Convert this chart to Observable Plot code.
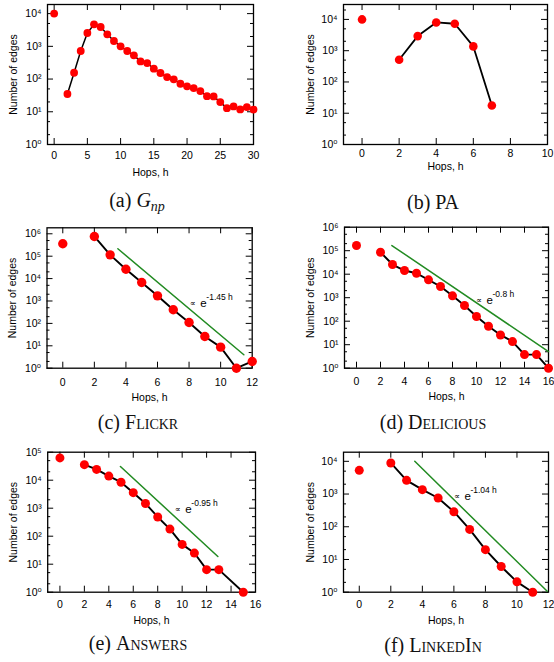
<!DOCTYPE html>
<html><head><meta charset="utf-8">
<script src="https://cdn.jsdelivr.net/npm/d3@7"></script>
<script src="https://cdn.jsdelivr.net/npm/@observablehq/plot@0.6"></script>
<style>
body{margin:0;overflow:hidden;background:#fff}
#wrap{position:relative;width:554px;height:662px;overflow:hidden;background:#fff}
.cap{position:absolute;white-space:nowrap;font-family:"Liberation Serif","Times New Roman",serif;font-size:20px;line-height:1;transform:translate(-50%,-50%);color:#111}
.sc{font-variant:small-caps}
sub{font-size:70%;vertical-align:-0.25em}
</style></head><body><div id="wrap"></div>
<script>
// ---------- data ----------
const hopsA  = [0,2,3,4,5,6,7,8,9,10,11,12,13,14,15,16,17,18,19,20,21,22,23,24,25,26,27,28,29,30];
const edgesA = [10000,35,156,720,2560,4700,3900,2330,1455,1000,720,530,347,309,207,153,115,98,72,60,53,43,30,29.5,19.8,12.9,14.6,11.8,13.9,11.7];

const hopsB  = [0,2,3,4,5,6,7];
const edgesB = [10000,512,2930,8000,7260,1370,17.6];

const hopsC  = [0,2,3,4,5,6,7,8,9,10,11,12];
const edgesC = [358000,760000,115000,26000,6700,1700,405,110,26,8.7,1,2];
const fitHopsC = [3.49,11.47];
const fitEdgesC = [214000,4.0];

const hopsD  = [0,2,3,4,5,6,7,8,9,10,11,12,13,14,15,16];
const edgesD = [166000,86000,25800,14300,11000,5740,2990,1200,464,158,61,26,13.6,3.8,3.8,1];
const fitHopsD = [2.95,16];
const fitEdgesD = [166000,5.1];

const hopsE  = [0,2,3,4,5,6,7,8,9,10,11,12,13,15];
const edgesE = [62400,35800,24300,14000,8470,3580,1475,486,179,51,25,6.4,6.4,1];
const fitHopsE = [4.95,12.92];
const fitEdgesE = [31000,18.8];

const hopsF  = [0,2,3,4,5,6,7,8,9,10,11];
const edgesF = [5300,8900,2620,1360,755,288,83,20,6.1,2.07,1];
const fitHopsF = [3.52,11.92];
const fitEdgesF = [10000,1.07];

const xTicksA = [0,5,10,15,20,25,30];
const xTicksB = [0,2,4,6,8,10];
const xTicksC = [0,2,4,6,8,10,12];
const xTicksD = [0,2,4,6,8,10,12,14,16];
const xTicksE = [0,2,4,6,8,10,12,14,16];
const xTicksF = [0,2,4,6,8,10,12];
const yTicks4 = [1,10,100,1000,10000];
const yTicks5 = [1,10,100,1000,10000,100000];
const yTicks6 = [1,10,100,1000,10000,100000,1000000];

const noteC = {h: 8.05, n: 760, exp: "-1.45 h"};
const noteD = {h: 9.96, n: 760, exp: "-0.8 h"};
const noteE = {h: 9.4, n: 890, exp: "-0.95 h"};
const noteF = {h: 6.0, n: 850, exp: "-1.04 h"};

const xLabel = "Hops, h";
const yLabel = "Number of edges";
// ------------------------------------------------

const SUP = "⁰¹²³⁴⁵⁶⁷⁸⁹";
const GREEN = "#228b22";
const FONT = "'Liberation Sans', Arial, 'DejaVu Sans', sans-serif";

function panel(c) {
  const data = c.hops.map((h, i) => ({h, n: c.edges[i]}));
  const [mt, mr, mb, ml] = c.margin;
  const pw = c.width - ml - mr, ph = c.height - mt - mb;
  const majors = c.yTicks;
  const minors = [];
  majors.forEach(v => [2, 5].forEach(k => { if (v * k < c.yDomain[1]) minors.push(v * k); }));
  const marks = [
    Plot.frame({stroke: "black", strokeWidth: 1.3}),
    Plot.tickY(majors, {y: d => d, insetRight: pw - 6, stroke: "black"}),
    Plot.tickY(majors, {y: d => d, insetLeft: pw - 6, stroke: "black"}),
    Plot.tickY(minors, {y: d => d, insetRight: pw - 3, stroke: "black"}),
    Plot.tickY(minors, {y: d => d, insetLeft: pw - 3, stroke: "black"}),
    Plot.tickX(c.xTicks, {x: d => d, insetTop: ph - 6, stroke: "black"}),
    Plot.tickX(c.xTicks, {x: d => d, insetBottom: ph - 6, stroke: "black"}),
    Plot.axisX(c.xTicks, {tickSize: 0, tickPadding: c.xPad, label: null}),
    Plot.axisY(majors, {tickSize: 0, tickPadding: 6, label: null,
      tickFormat: v => "10" + SUP[Math.round(Math.log10(v))]}),
    Plot.text([xLabel], {frameAnchor: "bottom", lineAnchor: "middle", textAnchor: "middle", dy: c.xLabelDy}),
    Plot.text([yLabel], {frameAnchor: "left", lineAnchor: "middle", textAnchor: "middle", rotate: -90, dx: c.yLabelDx}),
    Plot.line(data.filter(d => d.h > 0), {x: "h", y: "n", stroke: "black", strokeWidth: c.lw})
  ];
  if (c.fitH) {
    const fit = c.fitH.map((h, i) => ({h, n: c.fitN[i]}));
    marks.push(Plot.line(fit, {x: "h", y: "n", stroke: GREEN, strokeWidth: 1.5}));
  }
  marks.push(Plot.dot(data, {x: "h", y: "n", r: c.r, fill: "#ff0000", stroke: "none"}));
  if (c.note) {
    const nd = [c.note];
    marks.push(
      Plot.text(nd, {x: "h", y: "n", text: () => "∝", textAnchor: "start", fontSize: 8}),
      Plot.text(nd, {x: "h", y: "n", text: () => "e", textAnchor: "start", fontSize: 11.5, dx: 10.5}),
      Plot.text(nd, {x: "h", y: "n", text: d => d.exp, textAnchor: "start", fontSize: 8.5, dx: 16.5, dy: -6.5})
    );
  }
  const svg = Plot.plot({
    width: c.width, height: c.height,
    marginTop: mt, marginRight: mr, marginBottom: mb, marginLeft: ml,
    style: {fontFamily: FONT, fontSize: "10.5px", color: "black", background: "transparent", overflow: "visible"},
    x: {domain: c.xDomain},
    y: {type: "log", domain: c.yDomain},
    marks
  });
  svg.style.position = "absolute";
  svg.style.left = c.left + "px";
  svg.style.top = c.top + "px";
  return svg;
}

const wrap = document.getElementById("wrap");
const panels = [
  {left: 0, top: 0, width: 277, height: 190, margin: [4, 24, 46, 47], hops: hopsA, edges: edgesA,
   xDomain: [-1, 30], xTicks: xTicksA, yDomain: [1, 19000], yTicks: yTicks4, r: 3.9, lw: 1.5, xPad: 7, xLabelDy: 28, yLabelDx: -34},
  {left: 277, top: 0, width: 277, height: 190, margin: [4, 7, 46, 66], hops: hopsB, edges: edgesB,
   xDomain: [-1, 10], xTicks: xTicksB, yDomain: [1, 30000], yTicks: yTicks4, r: 4.3, lw: 1.8, xPad: 5, xLabelDy: 22, yLabelDx: -33},
  {left: 0, top: 215, width: 277, height: 200, margin: [12.3, 25.3, 47.3, 46.5], hops: hopsC, edges: edgesC,
   xDomain: [-1, 12], xTicks: xTicksC, yDomain: [1, 1850000], yTicks: yTicks6, r: 4.7, lw: 1.9, xPad: 10, xLabelDy: 29, yLabelDx: -34,
   fitH: fitHopsC, fitN: fitEdgesC, note: noteC},
  {left: 277, top: 215, width: 277, height: 200, margin: [11.7, 6, 47.3, 67], hops: hopsD, edges: edgesD,
   xDomain: [-1, 16], xTicks: xTicksD, yDomain: [1, 1000000], yTicks: yTicks6, r: 4.5, lw: 1.9, xPad: 9, xLabelDy: 28, yLabelDx: -34,
   fitH: fitHopsD, fitN: fitEdgesD, note: noteD},
  {left: 0, top: 440, width: 277, height: 200, margin: [11.7, 22, 48.3, 47.2], hops: hopsE, edges: edgesE,
   xDomain: [-1, 16], xTicks: xTicksE, yDomain: [1, 100000], yTicks: yTicks5, r: 4.5, lw: 1.9, xPad: 8, xLabelDy: 28, yLabelDx: -34,
   fitH: fitHopsE, fitN: fitEdgesE, note: noteE},
  {left: 277, top: 440, width: 277, height: 200, margin: [11.7, 6, 48.3, 66], hops: hopsF, edges: edgesF,
   xDomain: [-1, 12], xTicks: xTicksF, yDomain: [1, 19000], yTicks: yTicks4, r: 4.5, lw: 1.9, xPad: 8, xLabelDy: 28, yLabelDx: -33,
   fitH: fitHopsF, fitN: fitEdgesF, note: noteF}
];
panels.forEach(p => wrap.appendChild(panel(p)));

const captions = [
  {x: 137, y: 202, html: "(a) <i>G</i><sub><i>np</i></sub>"},
  {x: 433, y: 202, html: "(b) PA"},
  {x: 138, y: 422, html: "(c) <span class='sc'>Flickr</span>"},
  {x: 433, y: 422, html: "(d) <span class='sc'>Delicious</span>"},
  {x: 138, y: 643, html: "(e) <span class='sc'>Answers</span>"},
  {x: 433, y: 645, html: "(f) <span class='sc'>LinkedIn</span>"}
];
captions.forEach(c => {
  const d = document.createElement("div");
  d.className = "cap";
  d.style.left = c.x + "px";
  d.style.top = c.y + "px";
  d.innerHTML = c.html;
  wrap.appendChild(d);
});
</script>
</body></html>
